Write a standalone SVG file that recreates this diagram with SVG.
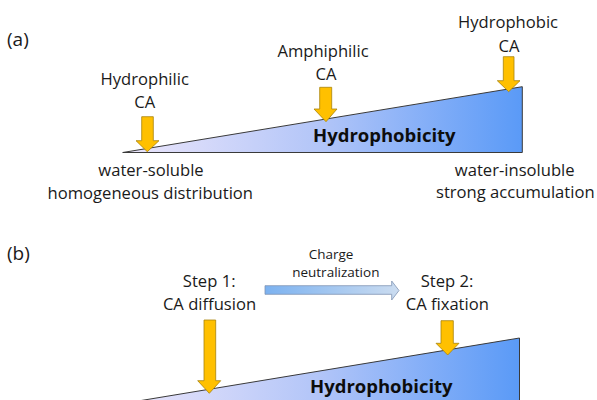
<svg xmlns="http://www.w3.org/2000/svg" width="597" height="400" viewBox="0 0 597 400">
<defs>
<linearGradient id="hg" x1="0" y1="0" x2="1" y2="0">
<stop offset="0" stop-color="#ece6fb"/>
<stop offset="0.5" stop-color="#b2c5f8"/>
<stop offset="1" stop-color="#5a9af7"/>
</linearGradient>
<linearGradient id="bg" x1="0" y1="0" x2="1" y2="0">
<stop offset="0" stop-color="#7cb2f0"/>
<stop offset="1" stop-color="#cbdcf0"/>
</linearGradient>
<style>
text{font-family:"Open Sans","Noto Sans","Liberation Sans",sans-serif;fill:#1a1a1a}
.t{font-size:16.6px;text-anchor:middle}
.s{font-size:13.5px;text-anchor:middle}
.p{font-size:19px}
.h{font-size:18.5px;font-weight:bold;fill:#0d0d0d}
.tri{fill:url(#hg);stroke:#3a3a3a;stroke-width:1}
.ar{fill:#ffc000;stroke:#a8830a;stroke-width:0.8}
</style>
</defs>
<rect width="597" height="400" fill="#fff"/>
<g id="panel-a">
<text class="p" x="7" y="46">(a)</text>
<g id="triangle-a">
<polygon class="tri" points="122.7,152.5 522.3,86.7 522.3,152.5"/>
<text class="h" x="313" y="141.7">Hydrophobicity</text>
</g>
<g id="hydrophilic">
<text class="t" x="144.7" y="85">Hydrophilic</text>
<text class="t" x="144.7" y="107.5">CA</text>
</g>
<g id="amphiphilic">
<text class="t" x="323" y="57">Amphiphilic</text>
<text class="t" x="326" y="80">CA</text>
</g>
<g id="hydrophobic">
<text class="t" x="508" y="28.3">Hydrophobic</text>
<text class="t" x="509" y="51.7">CA</text>
</g>
<g id="left-label">
<text class="t" x="151" y="175.5">water-soluble</text>
<text class="t" x="150.3" y="198.5">homogeneous distribution</text>
</g>
<g id="right-label">
<text class="t" x="514.7" y="175.5">water-insoluble</text>
<text class="t" x="515.3" y="198.3">strong accumulation</text>
</g>
</g>
<g id="panel-b">
<text class="p" x="7" y="260">(b)</text>
<g id="triangle-b">
<polygon class="tri" points="120,404 519.5,338 519.5,404"/>
<text class="h" x="310" y="393">Hydrophobicity</text>
</g>
<g id="step1">
<text class="t" x="209.2" y="287">Step 1:</text>
<text class="t" x="209.5" y="310">CA diffusion</text>
</g>
<g id="step2">
<text class="t" x="447" y="287">Step 2:</text>
<text class="t" x="447.3" y="310">CA fixation</text>
</g>
<g id="charge-label">
<text class="s" x="331" y="259">Charge</text>
<text class="s" x="335.8" y="276.7">neutralization</text>
</g>
</g>
<g id="connectors">
<polygon class="ar" points="141.7,116.7 153.3,116.7 153.3,140.7 159,140.7 147.3,151.7 136,140.7 141.7,140.7"/>
<polygon class="ar" points="319.7,87.3 331.7,87.3 331.7,109 337,109 326,121.7 314,109 319.7,109"/>
<polygon class="ar" points="503.3,56.7 514,56.7 514,80.7 520,80.7 508.7,91.7 497.3,80.7 503.3,80.7"/>
<polygon class="ar" points="204,320 215.7,320 215.7,380.7 220.7,380.7 209.3,393.3 197.7,380.7 204,380.7"/>
<polygon class="ar" points="441,320.7 453.3,320.7 453.3,343.3 459,343.3 447.7,355 436,343.3 441,343.3"/>
<polygon points="265,285.7 391.7,285.7 391.7,281 399,290.5 391.7,300 391.7,294.3 265,294.3" fill="url(#bg)" stroke="#7f93b3" stroke-width="0.8"/>
</g>
</svg>
